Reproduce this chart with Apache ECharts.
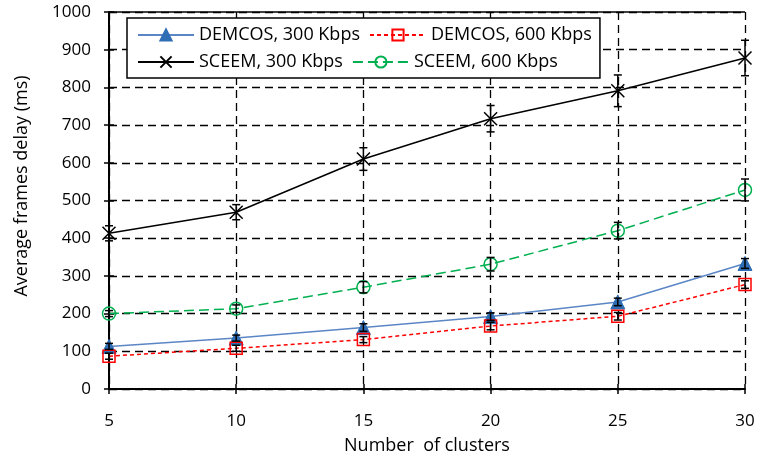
<!DOCTYPE html>
<html>
<head>
<meta charset="utf-8">
<script src="https://cdn.jsdelivr.net/npm/echarts@6/dist/echarts.min.js"></script>
<style>html,body{margin:0;padding:0;background:#fff}#c{width:758px;height:459px}</style>
</head>
<body>
<div id="c"></div>
<script>
var clusters = [5, 10, 15, 20, 25, 30];
var yTicks = [0, 100, 200, 300, 400, 500, 600, 700, 800, 900, 1000];
var demcos300 = [113, 135, 163, 192, 231, 333];
var demcos600 = [87, 108, 131, 167, 193, 277];
var sceem300 = [413, 469, 610, 717, 791, 878];
var sceem600 = [200, 213, 270, 331, 420, 528];
var errDemcos300 = [8, 8, 10, 10, 10, 13];
var errDemcos600 = [8, 8, 8, 10, 10, 10];
var errSceem300 = [20, 20, 30, 35, 42, 47];
var errSceem600 = [8, 10, 15, 18, 22, 29];
var names = ['DEMCOS, 300 Kbps', 'DEMCOS, 600 Kbps', 'SCEEM, 300 Kbps', 'SCEEM, 600 Kbps'];

var FONT = 'Open Sans';
function pairs(vals) { return clusters.map(function (c, i) { return [c, vals[i]]; }); }
function errData(vals, errs) { return clusters.map(function (c, i) { return [c, vals[i], errs[i]]; }); }

function errSeries(vals, errs) {
  return {
    type: 'custom',
    silent: true,
    z: 5,
    data: errData(vals, errs),
    renderItem: function (params, api) {
      var x = api.value(0), y = api.value(1), e = api.value(2);
      var top = api.coord([x, y + e]);
      var bot = api.coord([x, y - e]);
      var w = 4;
      var st = { stroke: '#000', lineWidth: 1.5 };
      return {
        type: 'group',
        children: [
          { type: 'line', shape: { x1: top[0], y1: top[1], x2: bot[0], y2: bot[1] }, style: st },
          { type: 'line', shape: { x1: top[0] - w, y1: top[1], x2: top[0] + w, y2: top[1] }, style: st },
          { type: 'line', shape: { x1: bot[0] - w, y1: bot[1], x2: bot[0] + w, y2: bot[1] }, style: st }
        ]
      };
    }
  };
}

var gridDash = { color: '#000', width: 1.3, type: [8, 5] };

var chart = echarts.init(document.getElementById('c'));
chart.setOption({
  animation: false,
  textStyle: { fontFamily: FONT },
  grid: { left: 109, right: 13, top: 12, bottom: 70, containLabel: false, outerBoundsMode: 'none' },
  legend: {
    data: names,
    left: 127,
    top: 18,
    width: 480,
    padding: [8, 8, 7, 10],
    itemGap: 9,
    itemWidth: 56,
    itemHeight: 14,
    backgroundColor: '#fff',
    borderColor: '#000',
    borderWidth: 1.5,
    borderRadius: 0,
    textStyle: { fontFamily: FONT, fontSize: 18, color: '#000' }
  },
  xAxis: [{
    type: 'value', min: 5, max: 30, interval: 5,
    name: 'Number  of clusters', nameLocation: 'middle', nameGap: 48,
    nameTextStyle: { fontFamily: FONT, fontSize: 18, color: '#000' },
    axisLine: { lineStyle: { color: '#000', width: 2 } },
    axisTick: { show: true, length: 5, lineStyle: { color: '#000', width: 1.5 } },
    axisLabel: { margin: 24, fontFamily: FONT, fontSize: 17, color: '#000' },
    splitLine: { show: true, lineStyle: gridDash }
  }, {
    type: 'value', min: 5, max: 30, interval: 5, position: 'bottom',
    axisLine: { show: false },
    axisTick: { show: true, inside: true, length: 5, lineStyle: { color: '#000', width: 1.5 } },
    axisLabel: { show: false }, splitLine: { show: false }
  }],
  yAxis: [{
    type: 'value', min: yTicks[0], max: yTicks[yTicks.length - 1], interval: 100,
    name: 'Average frames delay (ms)', nameLocation: 'middle', nameGap: 78,
    nameTextStyle: { fontFamily: FONT, fontSize: 18, color: '#000', padding: [0, 0, 0, 29] },
    axisLine: { show: true, lineStyle: { color: '#000', width: 2 } },
    axisTick: { show: true, length: 5, lineStyle: { color: '#000', width: 1.5 } },
    axisLabel: { margin: 18, fontFamily: FONT, fontSize: 17, color: '#000', formatter: function (v) { return String(v); } },
    splitLine: { show: true, lineStyle: gridDash }
  }, {
    type: 'value', min: 0, max: 1000, interval: 100, position: 'left',
    axisLine: { show: false },
    axisTick: { show: true, inside: true, length: 5, lineStyle: { color: '#000', width: 1.5 } },
    axisLabel: { show: false }, splitLine: { show: false }
  }],
  series: [
    {
      name: names[0], type: 'line', data: pairs(demcos300), z: 3,
      symbol: 'triangle', symbolSize: 14,
      lineStyle: { color: '#5B86C5', width: 1.5 },
      itemStyle: { color: '#2F6DB5', borderColor: '#2F6DB5', borderWidth: 1 }
    },
    {
      name: names[1], type: 'line', data: pairs(demcos600), z: 3,
      symbol: 'rect', symbolSize: 12,
      lineStyle: { color: '#FF0000', width: 1.5, type: [4, 3] },
      itemStyle: { color: 'rgba(255,255,255,0)', borderColor: '#FF0000', borderWidth: 1.5 }
    },
    {
      name: names[2], type: 'line', data: pairs(sceem300), z: 3,
      symbol: 'path://M0,0 L10,10 M10,0 L0,10', symbolSize: 13,
      lineStyle: { color: '#000', width: 1.5 },
      itemStyle: { color: 'none', borderColor: '#000', borderWidth: 1.5 },
      markLine: {
        silent: true, symbol: 'none', label: { show: false },
        lineStyle: { color: '#000', width: 1.5, type: 'solid' },
        data: [{ yAxis: yTicks[yTicks.length - 1] }]
      }
    },
    {
      name: names[3], type: 'line', data: pairs(sceem600), z: 3,
      symbol: 'circle', symbolSize: 13,
      lineStyle: { color: '#00B050', width: 1.5, type: [10, 5] },
      itemStyle: { color: 'rgba(255,255,255,0)', borderColor: '#00B050', borderWidth: 1.5 }
    },
    errSeries(demcos300, errDemcos300),
    errSeries(demcos600, errDemcos600),
    errSeries(sceem300, errSceem300),
    errSeries(sceem600, errSceem600)
  ]
});
</script>
</body>
</html>
